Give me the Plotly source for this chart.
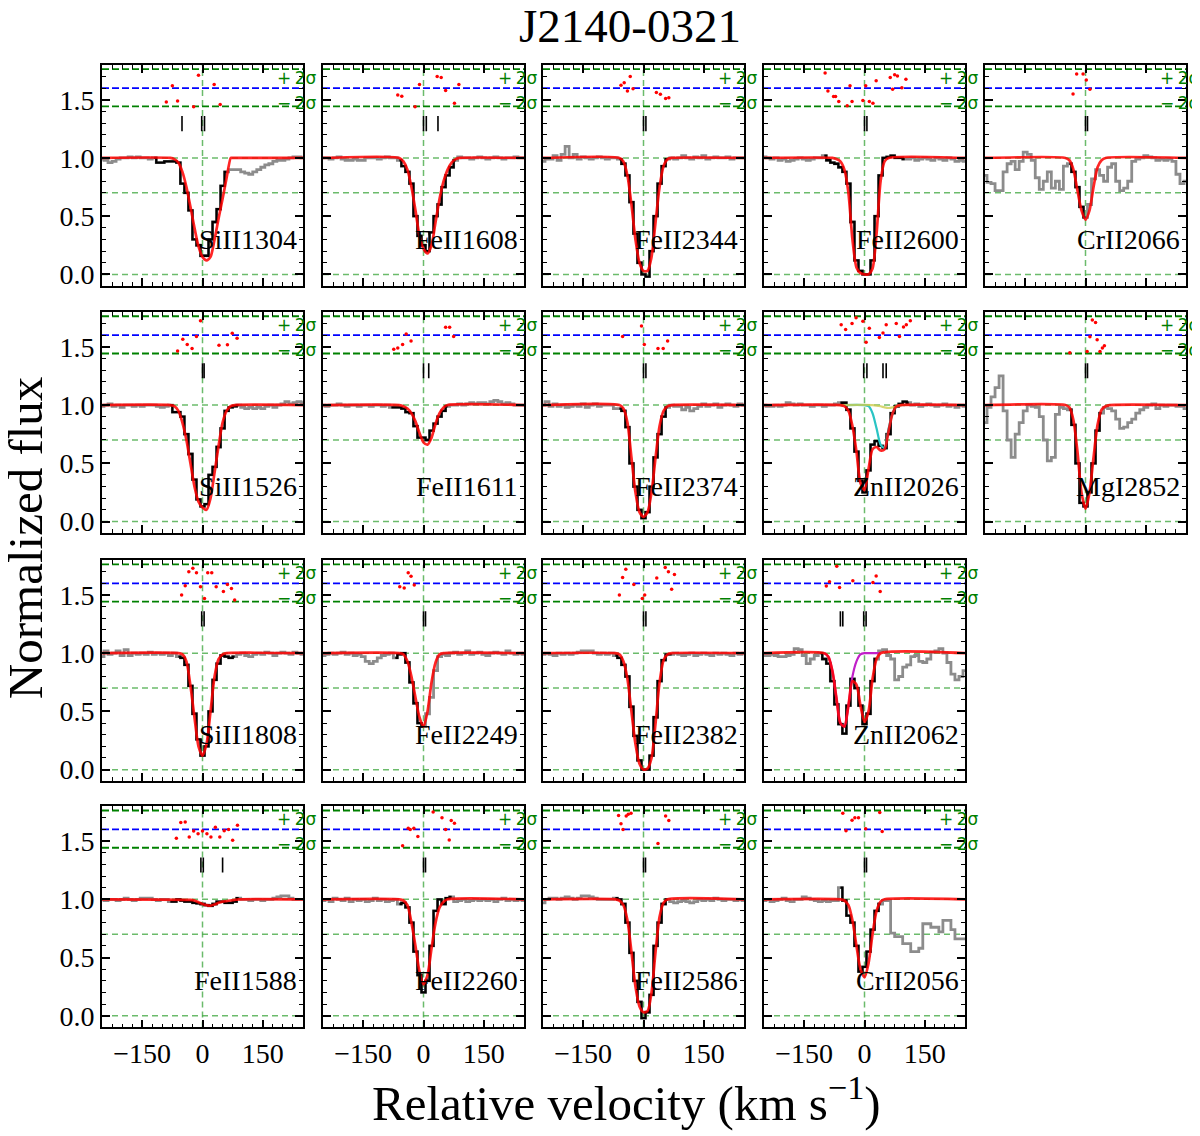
import plotly.graph_objects as go

# velocity grid of the spectra (km/s)
VEL = [-250, -240, -230, -220, -210, -200, -190, -180, -170, -160,
       -150, -140, -130, -120, -110, -100, -90, -80, -70, -60,
       -50, -40, -30, -20, -10, 0, 10, 20, 30, 40,
       50, 60, 70, 80, 90, 100, 110, 120, 130, 140,
       150, 160, 170, 180, 190, 200, 210, 220, 230, 240, 250]

# ---- SiII1304 ----
siii1304_flux = [0.99, 0.98, 0.96, 0.97, 0.99, 1.00, 1.00, 1.01, 1.00, 1.01,
                 1.00, 1.00, 0.99, 1.00, 0.96, 0.96, 0.97, 0.97, 0.97, 0.96,
                 0.78, 0.70, 0.55, 0.30, 0.25, 0.16, 0.16, 0.30, 0.45, 0.56,
                 0.76, 0.88, 0.90, 0.90, 0.90, 0.88, 0.87, 0.86, 0.88, 0.90,
                 0.92, 0.94, 0.95, 0.97, 0.98, 0.98, 0.99, 1.00, 1.01, 1.01, 1.00]
siii1304_win = [-120, 60]
siii1304_mv = [-250, -80, -70, -60, -50, -40, -30, -20, -10, 0, 10, 20, 30, 40, 50, 60, 70, 72, 250]
siii1304_mf = [1, 1, 0.99, 0.96, 0.88, 0.75, 0.58, 0.40, 0.24, 0.15, 0.12, 0.15, 0.30, 0.48, 0.65, 0.83, 1.0, 1.0, 1.0]
siii1304_rv = [-90, -75, -62, -22, -10, 29, 44]
siii1304_rf = [1.48, 1.62, 1.49, 1.44, 1.71, 1.63, 1.46]
siii1304_comp = [-51, -2, 5]

# ---- FeII1608 ----
feii1608_flux = [1.00, 1.00, 0.99, 1.00, 1.01, 0.99, 0.98, 0.98, 0.99, 0.98,
                 0.98, 1.00, 1.00, 1.00, 0.99, 1.00, 1.01, 1.00, 1.00, 0.98,
                 0.93, 0.88, 0.78, 0.50, 0.33, 0.25, 0.20, 0.36, 0.50, 0.60,
                 0.75, 0.85, 0.92, 0.98, 1.01, 1.00, 1.00, 0.99, 1.00, 1.01,
                 1.00, 0.99, 1.00, 1.01, 1.00, 0.99, 1.00, 1.00, 1.01, 1.00, 1.00]
feii1608_win = [-65, 85]
feii1608_mv = [-250, -60, -50, -40, -30, -20, -10, 0, 10, 20, 30, 40, 50, 60, 70, 80, 90, 250]
feii1608_mf = [1, 1, 0.97, 0.90, 0.75, 0.55, 0.33, 0.22, 0.18, 0.25, 0.45, 0.65, 0.80, 0.90, 0.96, 0.99, 1, 1]
feii1608_rv = [-64, -54, -21, -10, 34, 44, 55, 77, 88]
feii1608_rf = [1.54, 1.53, 1.44, 1.63, 1.70, 1.69, 1.58, 1.47, 1.63]
feii1608_comp = [0, 7, 36]

# ---- FeII2344 ----
feii2344_flux = [0.97, 0.99, 0.99, 1.02, 0.98, 1.03, 1.10, 1.00, 1.03, 0.99,
                 1.01, 1.00, 0.99, 1.00, 1.01, 1.00, 0.99, 1.00, 1.00, 0.99,
                 0.95, 0.85, 0.62, 0.35, 0.10, 0.00, -0.02, 0.20, 0.50, 0.78,
                 0.93, 0.99, 1.00, 0.99, 1.00, 1.02, 1.00, 0.99, 1.01, 1.00,
                 1.02, 0.99, 1.00, 1.01, 1.00, 1.00, 1.01, 0.99, 1.00, 1.00, 1.00]
feii2344_win = [-60, 60]
feii2344_mv = [-250, -60, -50, -40, -30, -20, -10, 0, 10, 20, 30, 40, 50, 60, 70, 250]
feii2344_mf = [1, 1, 0.97, 0.85, 0.60, 0.30, 0.10, 0.03, 0.03, 0.15, 0.45, 0.75, 0.93, 0.99, 1, 1]
feii2344_rv = [-56, -48, -40, -33, -26, 32, 42, 55, 63]
feii2344_rf = [1.625, 1.645, 1.575, 1.70, 1.594, 1.563, 1.546, 1.51, 1.518]
feii2344_comp = [0, 6]

# ---- FeII2600 ----
feii2600_flux = [1.01, 1.00, 0.99, 1.00, 0.98, 0.99, 0.97, 0.98, 0.99, 1.00,
                 0.99, 0.98, 0.99, 1.00, 1.00, 1.02, 0.98, 0.96, 0.95, 0.92,
                 0.88, 0.78, 0.45, 0.12, 0.03, 0.00, 0.00, 0.12, 0.50, 0.85,
                 1.00, 1.01, 1.02, 1.00, 1.00, 0.99, 0.99, 1.00, 0.98, 0.99,
                 1.00, 0.99, 0.98, 1.00, 0.99, 0.98, 1.00, 0.99, 0.97, 0.98, 0.97]
feii2600_win = [-105, 100]
feii2600_mv = [-250, -80, -70, -60, -50, -40, -30, -20, -10, 0, 10, 20, 30, 40, 50, 60, 250]
feii2600_mf = [1, 1, 0.99, 0.97, 0.90, 0.70, 0.30, 0.06, 0.01, 0.0, 0.0, 0.05, 0.35, 0.80, 0.97, 1, 1]
feii2600_rv = [-98, -91, -77, -72, -64, -43, -36, -31, -4, 3, 12, 21, 29, 64, 70, 75, 82, 93, 103]
feii2600_rf = [1.73, 1.575, 1.527, 1.527, 1.485, 1.448, 1.62, 1.485, 1.493, 1.62,
               1.485, 1.47, 1.662, 1.69, 1.589, 1.715, 1.704, 1.603, 1.676]
feii2600_comp = [0, 6]

# ---- CrII2066 ----
crii2066_flux = [0.85, 0.79, 0.78, 0.72, 0.72, 0.88, 0.95, 0.97, 0.90, 0.97,
                 1.05, 1.03, 0.98, 0.83, 0.73, 0.80, 0.88, 0.74, 0.80, 0.73,
                 0.93, 0.95, 0.88, 0.75, 0.58, 0.49, 0.60, 0.82, 0.90, 0.85,
                 0.80, 0.92, 0.95, 0.80, 0.72, 0.74, 0.80, 0.97, 0.99, 1.00,
                 1.02, 1.01, 1.00, 0.98, 0.99, 0.98, 0.99, 0.97, 0.86, 0.78, 0.80]
crii2066_win = [-48, 2]
crii2066_mv = [-250, -50, -40, -30, -20, -10, 0, 10, 20, 30, 40, 50, 250]
crii2066_mf = [1, 1, 0.98, 0.90, 0.72, 0.55, 0.47, 0.55, 0.75, 0.92, 0.98, 1, 1]
crii2066_rv = [-31, -22, -6, 2, 11]
crii2066_rf = [1.55, 1.72, 1.72, 1.67, 1.59]
crii2066_comp = [0, 5]

# ---- SiII1526 ----
siii1526_flux = [0.99, 1.00, 1.01, 0.99, 1.00, 0.98, 1.00, 1.00, 0.99, 1.00,
                 0.99, 1.00, 1.00, 1.00, 0.99, 0.98, 0.99, 1.00, 0.94, 0.94,
                 0.90, 0.75, 0.58, 0.36, 0.19, 0.13, 0.15, 0.40, 0.47, 0.64,
                 0.80, 0.95, 0.98, 0.99, 1.00, 0.98, 0.97, 0.98, 0.97, 0.98,
                 0.97, 0.99, 1.00, 0.98, 1.00, 1.01, 1.03, 1.01, 1.02, 1.03, 1.02]
siii1526_win = [-80, 90]
siii1526_mv = [-250, -80, -70, -60, -50, -40, -30, -20, -10, 0, 10, 20, 30, 40, 50, 60, 70, 80, 250]
siii1526_mf = [1, 1, 0.99, 0.95, 0.85, 0.70, 0.50, 0.30, 0.17, 0.12, 0.10, 0.20, 0.42, 0.65, 0.85, 0.95, 0.99, 1, 1]
siii1526_rv = [-62, -49, -38, -26, -15, -5, 41, 62, 74, 86]
siii1526_rf = [1.465, 1.566, 1.52, 1.485, 1.59, 1.724, 1.513, 1.518, 1.617, 1.575]
siii1526_comp = [0, 4]

# ---- FeII1611 ----
feii1611_flux = [1.00, 0.99, 1.00, 1.00, 1.01, 1.00, 0.99, 1.00, 1.00, 0.99,
                 1.00, 1.00, 0.99, 1.00, 1.00, 0.99, 1.00, 0.98, 0.98, 0.98,
                 0.97, 0.94, 0.93, 0.82, 0.72, 0.72, 0.70, 0.78, 0.84, 0.90,
                 0.95, 0.99, 1.00, 1.00, 1.01, 1.00, 1.01, 1.02, 1.01, 1.02,
                 1.02, 1.01, 1.03, 1.04, 1.03, 1.01, 1.02, 1.01, 1.00, 1.00, 1.00]
feii1611_win = [-85, 60]
feii1611_mv = [-250, -60, -50, -40, -30, -20, -10, 0, 10, 20, 30, 40, 50, 60, 250]
feii1611_mf = [1, 1, 0.99, 0.97, 0.93, 0.86, 0.76, 0.68, 0.66, 0.72, 0.84, 0.93, 0.98, 1, 1]
feii1611_rv = [-74, -64, -52, -43, -31, 55, 65, 75]
feii1611_rf = [1.48, 1.49, 1.52, 1.61, 1.55, 1.668, 1.668, 1.59]
feii1611_comp = [0, 13]

# ---- FeII2374 ----
feii2374_flux = [1.00, 1.03, 0.99, 1.01, 0.99, 1.00, 0.98, 0.99, 1.00, 0.99,
                 1.01, 0.98, 1.00, 1.01, 0.99, 1.00, 1.00, 1.00, 0.97, 0.97,
                 0.95, 0.81, 0.50, 0.30, 0.10, 0.03, 0.08, 0.30, 0.55, 0.75,
                 0.90, 0.98, 1.00, 0.99, 0.99, 0.96, 0.98, 0.95, 0.97, 0.99,
                 1.01, 0.99, 1.00, 1.01, 0.98, 1.00, 1.01, 1.00, 0.99, 1.01, 1.00]
feii2374_win = [-65, 60]
feii2374_mv = [-250, -60, -50, -40, -30, -20, -10, 0, 10, 20, 30, 40, 50, 60, 70, 250]
feii2374_mf = [1, 1, 0.97, 0.85, 0.55, 0.25, 0.08, 0.04, 0.08, 0.25, 0.55, 0.82, 0.95, 0.99, 1, 1]
feii2374_rv = [-52, -5, 2, 36, 49, 60]
feii2374_rf = [1.59, 1.68, 1.52, 1.485, 1.485, 1.55]
feii2374_comp = [0, 6]

# ---- ZnII2026 (with blended components) ----
znii2026_flux = [1.00, 0.99, 0.99, 1.00, 0.99, 1.00, 1.02, 1.01, 1.00, 1.01,
                 1.00, 1.00, 0.99, 1.00, 1.00, 0.99, 1.00, 1.00, 1.01, 1.02,
                 1.02, 0.96, 0.80, 0.60, 0.35, 0.25, 0.44, 0.66, 0.69, 0.65,
                 0.63, 0.75, 0.93, 0.99, 1.01, 1.03, 1.02, 1.00, 1.01, 0.99,
                 1.00, 1.01, 1.00, 0.99, 1.00, 1.01, 0.99, 1.00, 0.98, 1.00, 0.99]
znii2026_win = [-60, 115]
znii2026_mv = [-250, -60, -50, -40, -30, -20, -10, 0, 10, 20, 30, 40, 50, 60, 70, 80, 90, 250]
znii2026_mf = [1, 1, 0.99, 0.95, 0.82, 0.60, 0.33, 0.27, 0.45, 0.62, 0.64, 0.61, 0.62, 0.78, 0.93, 0.99, 1, 1]
znii2026_cyan_v = [-60, 0, 10, 20, 30, 40, 50, 60, 70, 80, 90, 100]
znii2026_cyan_f = [1, 1, 0.99, 0.93, 0.80, 0.66, 0.63, 0.80, 0.93, 0.99, 1, 1]
znii2026_yel_v = [-60, 20, 40, 50, 60, 70, 80, 90, 100]
znii2026_yel_f = [1, 1, 0.99, 0.98, 0.975, 0.98, 0.99, 1, 1]
znii2026_rv = [-58, -47, -31, -21, -4, 4, 12, 37, 46, 54, 79, 87, 97, 104, 114]
znii2026_rf = [1.69, 1.65, 1.70, 1.75, 1.72, 1.54, 1.66, 1.58, 1.62, 1.69, 1.70, 1.59, 1.67, 1.69, 1.725]
znii2026_comp = [-2, 6, 46, 54]

# ---- MgI2852 ----
mgi2852_flux = [0.85, 0.98, 1.07, 1.15, 1.25, 0.95, 0.70, 0.55, 0.75, 0.85,
                0.95, 1.00, 0.99, 0.98, 0.90, 0.70, 0.52, 0.55, 0.92, 0.98,
                0.97, 0.96, 0.83, 0.50, 0.16, 0.13, 0.25, 0.50, 0.78, 0.93,
                0.98, 0.97, 0.95, 0.88, 0.80, 0.81, 0.85, 0.88, 0.93, 0.96,
                0.98, 1.00, 1.01, 0.97, 1.00, 0.99, 1.00, 1.00, 0.99, 0.99, 0.97]
mgi2852_win = [-45, 48]
mgi2852_mv = [-250, -50, -40, -30, -20, -10, 0, 10, 20, 30, 40, 50, 60, 250]
mgi2852_mf = [1, 1, 0.98, 0.87, 0.60, 0.25, 0.11, 0.25, 0.55, 0.83, 0.96, 0.99, 1, 1]
mgi2852_rv = [-39, 4, 11, 17, 25, 29, 36, 42, 47]
mgi2852_rf = [1.45, 1.46, 1.586, 1.73, 1.71, 1.56, 1.46, 1.49, 1.51]
mgi2852_comp = [0, 5]

# ---- SiII1808 ----
siii1808_flux = [0.97, 1.02, 0.99, 1.00, 1.02, 0.98, 1.03, 0.98, 1.00, 0.99,
                 1.00, 0.99, 1.01, 0.99, 1.00, 0.99, 1.00, 0.98, 1.00, 0.97,
                 0.96, 0.90, 0.72, 0.48, 0.26, 0.12, 0.20, 0.50, 0.77, 0.91,
                 0.98, 0.97, 0.96, 0.97, 0.99, 1.00, 0.98, 0.97, 0.99, 1.00,
                 0.99, 1.01, 1.00, 0.98, 1.00, 1.01, 1.00, 0.99, 1.01, 1.00, 0.99]
siii1808_win = [-62, 82]
siii1808_mv = [-250, -60, -50, -40, -30, -20, -10, 0, 10, 20, 30, 40, 50, 60, 250]
siii1808_mf = [1, 1, 0.99, 0.93, 0.72, 0.45, 0.20, 0.12, 0.22, 0.50, 0.80, 0.95, 0.99, 1, 1]
siii1808_rv = [-52, -43, -34, -24, -15, -5, 5, 13, 23, 34, 52, 62, 72, 80]
siii1808_rf = [1.50, 1.58, 1.70, 1.73, 1.69, 1.57, 1.47, 1.69, 1.69, 1.57, 1.53, 1.59, 1.555, 1.456]
siii1808_comp = [-2, 4]

# ---- FeII2249 ----
feii2249_flux = [0.98, 0.99, 1.00, 0.99, 1.00, 1.01, 0.99, 1.00, 0.98, 0.99,
                 0.97, 0.93, 0.91, 0.93, 0.96, 0.98, 0.99, 1.00, 0.96, 0.99,
                 1.00, 0.92, 0.75, 0.57, 0.40, 0.37, 0.48, 0.62, 0.85, 0.97,
                 0.99, 0.98, 1.00, 1.01, 0.99, 1.00, 1.02, 0.99, 1.00, 1.01,
                 0.99, 0.98, 1.00, 1.01, 1.00, 0.99, 1.02, 1.00, 0.99, 1.00, 0.99]
feii2249_win = [-75, 5]
feii2249_mv = [-250, -60, -50, -40, -30, -20, -10, 0, 10, 20, 30, 40, 50, 250]
feii2249_mf = [1, 1, 0.99, 0.93, 0.80, 0.62, 0.45, 0.37, 0.50, 0.75, 0.92, 0.99, 1, 1]
feii2249_rv = [-59, -48, -38, -31, -23]
feii2249_rf = [1.57, 1.56, 1.69, 1.66, 1.585]
feii2249_comp = [0, 5]

# ---- FeII2382 ----
feii2382_flux = [0.99, 1.00, 0.99, 0.98, 1.00, 0.99, 1.00, 0.99, 1.00, 1.01,
                 1.02, 1.02, 1.02, 1.00, 0.99, 1.00, 0.99, 1.00, 0.98, 0.96,
                 0.90, 0.80, 0.54, 0.29, 0.08, 0.00, 0.00, 0.12, 0.45, 0.76,
                 0.94, 0.99, 0.99, 1.00, 0.99, 0.98, 0.99, 1.00, 0.98, 0.99,
                 1.00, 0.99, 0.98, 1.00, 0.99, 1.00, 0.99, 0.98, 1.00, 0.99, 1.00]
feii2382_win = [-75, 72]
feii2382_mv = [-250, -70, -60, -50, -40, -30, -20, -10, 0, 10, 20, 30, 40, 50, 60, 70, 250]
feii2382_mf = [1, 1, 0.99, 0.93, 0.78, 0.50, 0.22, 0.05, 0.0, 0.01, 0.10, 0.40, 0.75, 0.94, 0.99, 1, 1]
feii2382_rv = [-60, -52, -44, -24, -3, 3, 33, 54, 62, 70, 77]
feii2382_rf = [1.50, 1.65, 1.72, 1.59, 1.47, 1.50, 1.645, 1.735, 1.70, 1.55, 1.675]
feii2382_comp = [0, 6]

# ---- ZnII2062 (with blended component) ----
znii2062_flux = [0.98, 0.98, 0.99, 0.98, 0.97, 0.97, 0.98, 0.99, 1.04, 1.03,
                 0.98, 0.91, 0.95, 0.98, 1.00, 0.95, 0.91, 0.76, 0.56, 0.39,
                 0.31, 0.55, 0.78, 0.70, 0.55, 0.39, 0.48, 0.76, 0.95, 1.02,
                 1.03, 0.98, 0.95, 0.77, 0.80, 0.88, 0.90, 0.97, 0.98, 0.93,
                 0.92, 0.95, 1.01, 1.02, 1.04, 1.00, 0.92, 0.82, 0.77, 0.80, 0.85]
znii2062_win = [-110, 35]
znii2062_mv = [-250, -100, -90, -80, -70, -60, -50, -40, -30, -20, -10, 0, 10, 20, 30, 40, 250]
znii2062_mf = [1, 1, 0.97, 0.85, 0.62, 0.40, 0.37, 0.55, 0.76, 0.73, 0.55, 0.41, 0.50, 0.78, 0.95, 1, 1]
znii2062_mag_v = [-100, -90, -80, -70, -60, -50, -40, -30, -20, -10, 0, 10, 20, 30, 40]
znii2062_mag_f = [1, 0.97, 0.85, 0.62, 0.40, 0.37, 0.55, 0.80, 0.93, 0.99, 1, 1, 1, 1, 1]
znii2062_rv = [-95, -87, -69, -62, -29, 21, 29, 39]
znii2062_rf = [1.578, 1.614, 1.746, 1.564, 1.622, 1.608, 1.664, 1.53]
znii2062_comp = [-60, -54, -2, 4]

# ---- FeII1588 ----
feii1588_flux = [1.00, 0.99, 1.00, 1.00, 0.99, 1.00, 1.01, 1.00, 0.99, 1.00,
                 1.01, 1.01, 1.01, 1.00, 0.99, 1.00, 1.00, 0.98, 0.98, 1.00,
                 0.99, 0.98, 0.98, 0.97, 0.965, 0.96, 0.95, 0.945, 0.96, 0.98,
                 0.98, 0.97, 0.97, 0.98, 1.01, 1.00, 1.00, 0.99, 1.00, 1.00,
                 0.99, 1.00, 1.00, 1.01, 1.02, 1.03, 1.03, 1.01, 1.00, 1.00, 1.00]
feii1588_win = [-80, 90]
feii1588_mv = [-250, -30, -20, -10, 0, 10, 20, 30, 40, 50, 60, 70, 80, 90, 250]
feii1588_mf = [1, 0.995, 0.99, 0.975, 0.96, 0.95, 0.945, 0.955, 0.97, 0.98, 0.985, 0.99, 0.995, 1, 1]
feii1588_rv = [-65, -54, -43, -33, -22, -11, 0, 11, 21, 32, 43, 54, 65, 75, 87]
feii1588_rf = [1.524, 1.66, 1.665, 1.535, 1.586, 1.563, 1.586, 1.563, 1.535, 1.62, 1.535, 1.59, 1.60, 1.507, 1.637]
feii1588_comp = [-4, 2, 50]

# ---- FeII2260 ----
feii2260_flux = [0.99, 1.00, 0.98, 1.01, 1.00, 0.99, 1.01, 0.98, 1.00, 0.99,
                 1.00, 0.98, 0.99, 1.01, 0.99, 1.00, 0.98, 0.99, 1.00, 0.96,
                 0.97, 0.93, 0.80, 0.55, 0.35, 0.20, 0.30, 0.60, 0.90, 1.00,
                 0.96, 1.01, 1.02, 0.98, 0.99, 1.00, 0.98, 0.99, 1.00, 0.99,
                 1.00, 0.99, 1.00, 0.98, 1.00, 1.01, 0.99, 1.00, 0.99, 1.00, 0.99]
feii2260_win = [-62, 72]
feii2260_mv = [-250, -60, -50, -40, -30, -20, -10, 0, 10, 20, 30, 40, 50, 60, 250]
feii2260_mf = [1, 1, 0.99, 0.95, 0.80, 0.60, 0.38, 0.27, 0.35, 0.58, 0.80, 0.93, 0.98, 1, 1]
feii2260_rv = [-52, -38, -33, -24, -14, 24, 46, 55, 64, 69, 77]
feii2260_rf = [1.46, 1.61, 1.60, 1.61, 1.54, 1.75, 1.70, 1.60, 1.51, 1.676, 1.654]
feii2260_comp = [0, 5]

# ---- FeII2586 ----
feii2586_flux = [0.97, 1.00, 1.01, 1.01, 1.00, 1.01, 1.02, 1.01, 1.00, 1.01,
                 1.03, 1.03, 1.02, 1.01, 1.00, 1.00, 1.00, 1.00, 1.01, 1.00,
                 0.96, 0.80, 0.54, 0.30, 0.12, -0.02, 0.03, 0.18, 0.60, 0.80,
                 0.96, 1.00, 0.98, 0.97, 0.98, 0.99, 0.98, 0.97, 0.98, 1.00,
                 0.99, 1.00, 0.99, 1.01, 1.00, 0.99, 1.00, 1.00, 0.99, 1.00, 0.99]
feii2586_win = [-72, 65]
feii2586_mv = [-250, -70, -60, -50, -40, -30, -20, -10, 0, 10, 20, 30, 40, 50, 60, 250]
feii2586_mf = [1, 1, 0.99, 0.95, 0.82, 0.55, 0.25, 0.08, 0.03, 0.04, 0.20, 0.55, 0.85, 0.97, 1, 1]
feii2586_rv = [-62, -56, -51, -43, -38, -31, 36, 55, 63]
feii2586_rf = [1.72, 1.65, 1.60, 1.715, 1.73, 1.74, 1.48, 1.715, 1.676]
feii2586_comp = [0, 5]

# ---- CrII2056 ----
crii2056_flux = [0.99, 1.00, 0.98, 0.99, 1.00, 1.01, 0.99, 0.98, 1.00, 1.00,
                 1.02, 1.01, 1.00, 0.99, 0.98, 0.99, 0.98, 0.99, 0.99, 1.10,
                 0.99, 0.86, 0.80, 0.60, 0.38, 0.42, 0.55, 0.74, 0.90, 0.96,
                 0.99, 0.99, 0.71, 0.68, 0.68, 0.62, 0.62, 0.55, 0.55, 0.58,
                 0.79, 0.79, 0.76, 0.76, 0.72, 0.82, 0.82, 0.74, 0.66, 0.66, 0.66]
crii2056_win = [-65, 40]
crii2056_mv = [-250, -60, -50, -40, -30, -20, -10, 0, 10, 20, 30, 40, 50, 250]
crii2056_mf = [1, 1, 0.99, 0.95, 0.82, 0.60, 0.40, 0.33, 0.45, 0.70, 0.90, 0.98, 1, 1]
crii2056_rv = [-54, -46, -31, -24, -15, 3, 38, 44]
crii2056_rf = [1.74, 1.59, 1.68, 1.70, 1.70, 1.606, 1.746, 1.583]
crii2056_comp = [0, 5]

# panel name, grid row, grid column and its arrays
panels = [
    ("SiII1304", 0, 0, siii1304_flux, siii1304_win, siii1304_mv, siii1304_mf, siii1304_rv, siii1304_rf, siii1304_comp),
    ("FeII1608", 0, 1, feii1608_flux, feii1608_win, feii1608_mv, feii1608_mf, feii1608_rv, feii1608_rf, feii1608_comp),
    ("FeII2344", 0, 2, feii2344_flux, feii2344_win, feii2344_mv, feii2344_mf, feii2344_rv, feii2344_rf, feii2344_comp),
    ("FeII2600", 0, 3, feii2600_flux, feii2600_win, feii2600_mv, feii2600_mf, feii2600_rv, feii2600_rf, feii2600_comp),
    ("CrII2066", 0, 4, crii2066_flux, crii2066_win, crii2066_mv, crii2066_mf, crii2066_rv, crii2066_rf, crii2066_comp),
    ("SiII1526", 1, 0, siii1526_flux, siii1526_win, siii1526_mv, siii1526_mf, siii1526_rv, siii1526_rf, siii1526_comp),
    ("FeII1611", 1, 1, feii1611_flux, feii1611_win, feii1611_mv, feii1611_mf, feii1611_rv, feii1611_rf, feii1611_comp),
    ("FeII2374", 1, 2, feii2374_flux, feii2374_win, feii2374_mv, feii2374_mf, feii2374_rv, feii2374_rf, feii2374_comp),
    ("ZnII2026", 1, 3, znii2026_flux, znii2026_win, znii2026_mv, znii2026_mf, znii2026_rv, znii2026_rf, znii2026_comp),
    ("MgI2852", 1, 4, mgi2852_flux, mgi2852_win, mgi2852_mv, mgi2852_mf, mgi2852_rv, mgi2852_rf, mgi2852_comp),
    ("SiII1808", 2, 0, siii1808_flux, siii1808_win, siii1808_mv, siii1808_mf, siii1808_rv, siii1808_rf, siii1808_comp),
    ("FeII2249", 2, 1, feii2249_flux, feii2249_win, feii2249_mv, feii2249_mf, feii2249_rv, feii2249_rf, feii2249_comp),
    ("FeII2382", 2, 2, feii2382_flux, feii2382_win, feii2382_mv, feii2382_mf, feii2382_rv, feii2382_rf, feii2382_comp),
    ("ZnII2062", 2, 3, znii2062_flux, znii2062_win, znii2062_mv, znii2062_mf, znii2062_rv, znii2062_rf, znii2062_comp),
    ("FeII1588", 3, 0, feii1588_flux, feii1588_win, feii1588_mv, feii1588_mf, feii1588_rv, feii1588_rf, feii1588_comp),
    ("FeII2260", 3, 1, feii2260_flux, feii2260_win, feii2260_mv, feii2260_mf, feii2260_rv, feii2260_rf, feii2260_comp),
    ("FeII2586", 3, 2, feii2586_flux, feii2586_win, feii2586_mv, feii2586_mf, feii2586_rv, feii2586_rf, feii2586_comp),
    ("CrII2056", 3, 3, crii2056_flux, crii2056_win, crii2056_mv, crii2056_mf, crii2056_rv, crii2056_rf, crii2056_comp),
]

# extra model components drawn under the total model
extra_models = {
    "ZnII2026": [(znii2026_cyan_v, znii2026_cyan_f, "#2ac4c4"), (znii2026_yel_v, znii2026_yel_f, "rgba(205,205,80,0.8)")],
    "ZnII2062": [(znii2062_mag_v, znii2062_mag_f, "#c020c8")],
}

W, H = 1200, 1136
OFF = 8  # the page puts the plot 8 px in from the top-left corner
COL_LEFT = [102 - OFF, 323 - OFF, 543 - OFF, 764 - OFF, 985 - OFF]
ROW_TOP = [65 - OFF, 313 - OFF, 562 - OFF, 809 - OFF]
PW, PH = 201, 222
FONT = "Liberation Serif"
LIGHT_GREEN = "rgba(70,170,70,0.8)"

fig = go.Figure()

for n, (name, r, c, flux, win, mv, mf, rv, rf, comp) in enumerate(panels, start=1):
    xa = "x" if n == 1 else f"x{n}"
    ya = "y" if n == 1 else f"y{n}"

    # gray full spectrum, black where the fit is done
    fig.add_trace(go.Scatter(x=VEL, y=flux, mode="lines", line=dict(color="#8c8c8c", width=2.8, shape="hvh"),
                             xaxis=xa, yaxis=ya, showlegend=False, hoverinfo="skip"))
    bx = [v for v in VEL if win[0] <= v <= win[1]]
    by = [f for v, f in zip(VEL, flux) if win[0] <= v <= win[1]]
    fig.add_trace(go.Scatter(x=bx, y=by, mode="lines", line=dict(color="black", width=2.3, shape="hvh"),
                             xaxis=xa, yaxis=ya, showlegend=False, hoverinfo="skip"))

    for ev, ef, ecol in extra_models.get(name, []):
        fig.add_trace(go.Scatter(x=ev, y=ef, mode="lines", line=dict(color=ecol, width=2.2, shape="spline", smoothing=0.7),
                                 xaxis=xa, yaxis=ya, showlegend=False, hoverinfo="skip"))

    # fitted model
    fig.add_trace(go.Scatter(x=mv, y=mf, mode="lines", line=dict(color="rgba(255,0,0,0.85)", width=2.7, shape="spline", smoothing=0.7),
                             xaxis=xa, yaxis=ya, showlegend=False))

    # residuals
    fig.add_trace(go.Scatter(x=rv, y=rf, mode="markers", marker=dict(color="red", size=3.5),
                             xaxis=xa, yaxis=ya, showlegend=False))

    # component positions
    tx, ty = [], []
    for v in comp:
        tx += [v, v, None]
        ty += [1.23, 1.36, None]
    fig.add_trace(go.Scatter(x=tx, y=ty, mode="lines", line=dict(color="black", width=1.6),
                             xaxis=xa, yaxis=ya, showlegend=False, hoverinfo="skip"))

    # reference lines
    dom = f"{xa} domain"
    for yv in [0.0, 0.7, 1.0]:
        fig.add_shape(type="line", xref=dom, yref=ya, x0=0, x1=1, y0=yv, y1=yv, layer="below",
                      line=dict(color=LIGHT_GREEN, width=1.5, dash="6px,4px"))
    fig.add_shape(type="line", xref=xa, yref=f"{ya} domain", x0=0, x1=0, y0=0, y1=1, layer="below",
                  line=dict(color=LIGHT_GREEN, width=1.5, dash="6px,4px"))
    for yv, col in [(1.763, "green"), (1.443, "green"), (1.6, "blue")]:
        fig.add_shape(type="line", xref=dom, yref=ya, x0=0, x1=1, y0=yv, y1=yv, layer="below",
                      line=dict(color=col, width=1.8, dash="7px,3px"))

    fig.add_annotation(x=182, y=1.69, xref=xa, yref=ya, text="+\u20092σ", showarrow=False, xanchor="left",
                       yanchor="middle", borderpad=0, font=dict(family="DejaVu Sans", size=17, color="green"))
    fig.add_annotation(x=182, y=1.475, xref=xa, yref=ya, text="−\u20092σ", showarrow=False, xanchor="left",
                       yanchor="middle", borderpad=0, font=dict(family="DejaVu Sans", size=17, color="green"))
    fig.add_annotation(x=241, y=0.3, xref=xa, yref=ya, text=name, showarrow=False, xanchor="right",
                       yanchor="middle", font=dict(family=FONT, size=28, color="black"))

    x0 = COL_LEFT[c] / W
    y1 = 1 - ROW_TOP[r] / H
    axis_common = dict(showline=True, linecolor="black", linewidth=1.6, mirror="allticks", ticks="inside",
                       tickwidth=1.5, ticklen=8, tickcolor="black", showgrid=False, zeroline=False,
                       tickfont=dict(family=FONT, size=28, color="black"))
    fig.layout["xaxis" if n == 1 else f"xaxis{n}"] = dict(
        axis_common, domain=[x0, x0 + PW / W], anchor=ya, range=[-250, 250], tick0=0, dtick=150,
        minor=dict(dtick=25, tick0=0, ticks="inside", ticklen=4, tickwidth=1.2, tickcolor="black"),
        showticklabels=(r == 3))
    fig.layout["yaxis" if n == 1 else f"yaxis{n}"] = dict(
        axis_common, domain=[y1 - PH / H, y1], anchor=xa, range=[-0.1, 1.8], tick0=0, dtick=0.5,
        tickformat=".1f", minor=dict(dtick=0.1, tick0=0, ticks="inside", ticklen=4, tickwidth=1.2, tickcolor="black"),
        showticklabels=(c == 0))

# titles
fig.add_annotation(x=(630 - OFF) / W, y=1 - (26 - OFF) / H, xref="paper", yref="paper", text="J2140-0321",
                   showarrow=False, xanchor="center", yanchor="middle", font=dict(family=FONT, size=47, color="black"))
fig.add_annotation(x=(25 - OFF) / W, y=1 - (540 - OFF) / H, xref="paper", yref="paper", text="Normalized flux",
                   showarrow=False, textangle=-90, xanchor="center", yanchor="middle",
                   font=dict(family=FONT, size=49, color="black"))
fig.add_annotation(x=(626 - OFF) / W, y=1 - (1103 - OFF) / H, xref="paper", yref="paper",
                   text="Relative velocity (km s<sup>−1</sup>)", showarrow=False, xanchor="center", yanchor="middle",
                   font=dict(family=FONT, size=49, color="black"))

fig.update_layout(width=W, height=H, margin=dict(l=0, r=0, t=0, b=0),
                  plot_bgcolor="white", paper_bgcolor="white", showlegend=False)

fig.write_html("out.html")
